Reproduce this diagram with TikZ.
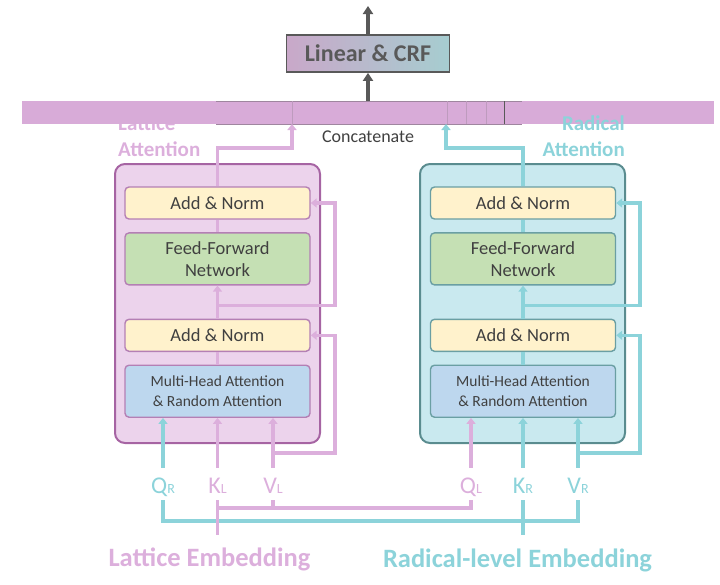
\documentclass[tikz,border=0pt]{standalone}
\usepackage{fontspec}
\setmainfont{Carlito}
\usetikzlibrary{arrows.meta}
\usetikzlibrary{positioning}

\definecolor{txtgrey}{HTML}{404040}
\definecolor{arrgrey}{HTML}{595959}
\definecolor{barpink}{HTML}{D8ABD8}
\definecolor{lpink}{HTML}{DCAFDC}
\definecolor{tteal}{HTML}{8CD3DA}
\definecolor{lfill}{HTML}{ECD3EC}
\definecolor{lborder}{HTML}{A664A3}
\definecolor{linner}{HTML}{B47FB4}
\definecolor{rfill}{HTML}{C9E9EF}
\definecolor{rborder}{HTML}{5A8C8F}
\definecolor{rinner}{HTML}{6A9FA3}
\definecolor{anfill}{HTML}{FFF2CC}
\definecolor{fffill}{HTML}{C5E0B4}
\definecolor{mhfill}{HTML}{BDD7EE}
\definecolor{crfleft}{HTML}{C9A8C9}
\definecolor{crfright}{HTML}{A6CDD0}

\begin{document}
\begin{tikzpicture}[x=1pt, y=-1pt, node distance=12.5pt,
    every node/.style={text=txtgrey},
    block/.style={rectangle, rounded corners=4pt, line width=1.4pt, minimum width=185pt, inner sep=2pt, align=center},
    addnorm/.style={block, fill=anfill, minimum height=32pt, font=\fontsize{18.5}{20}\selectfont},
    ffn/.style={block, fill=fffill, minimum height=52pt, font=\fontsize{18.5}{22.5}\selectfont},
    mha/.style={block, fill=mhfill, minimum height=52pt, font=\fontsize{15.5}{20}\selectfont},
    bigbox/.style={rectangle, rounded corners=10pt, line width=2pt, minimum width=205pt, minimum height=279pt},
    inlab/.style={font=\fontsize{24}{24}\selectfont, text height=20pt, text depth=2pt, inner ysep=5pt, inner xsep=1pt},
    emblab/.style={font=\fontsize{26.5}{28}\selectfont\bfseries, anchor=base},
    attlab/.style={font=\fontsize{21}{26}\selectfont\bfseries, inner sep=0pt},
    lline/.style={draw=lpink, line width=3.2pt},
    tline/.style={draw=tteal, line width=3.2pt},
    larr/.style={lline, -{Triangle[length=6pt,width=9pt]}},
    tarr/.style={tline, -{Triangle[length=6pt,width=9pt]}},
    darr/.style={draw=arrgrey, line width=3.2pt, -{Triangle[length=8pt,width=10pt]}}]

  \useasboundingbox (0,0) rectangle (720,584);

  % lattice label sits behind the bar
  \node[attlab, text=lpink, align=left, anchor=south west] (latt) at (118,157) {Lattice\\Attention};

  % concatenated output
  \node[fill=barpink, minimum width=692pt, minimum height=23pt, inner sep=0pt] (cat) at (368,112.5) {};
  \draw[barpink!55!arrgrey, line width=1pt] (216,101) -- (522,101) (216,124) -- (522,124);
  \draw[barpink!80!arrgrey, line width=0.8pt] (292,101) -- (292,124) (447,101) -- (447,124)
    (466,101) -- (466,124) (486,101) -- (486,124);
  \draw[arrgrey, line width=1pt] (504,101) -- (504,124);
  \node[font=\fontsize{18}{20}\selectfont] (cattxt) at (368,137) {Concatenate};
  \coordinate (lcat) at (292,124);
  \coordinate (rcat) at (446,124);

  \node[attlab, text=tteal, align=right, anchor=south east] (ratt) at (625,157) {Radical\\Attention};

  \node[rectangle, draw=arrgrey, line width=1.8pt, left color=crfleft, right color=crfright,
    minimum width=163pt, minimum height=37pt, font=\fontsize{24}{26}\selectfont\bfseries, text=arrgrey] (crf) at (368,53.5) {Linear \& CRF};
  \coordinate (out) at (368,6);
  \draw[darr] (cat) -- (crf);
  \draw[darr] (crf) -- (out);

  % lattice side
  \node[bigbox, fill=lfill, draw=lborder] (lbox) at (217.5,303.5) {};
  \node[addnorm, draw=linner] (lan2) at (217.5,203) {Add \& Norm};
  \node[ffn, draw=linner, below=of lan2] (lff) {Feed-Forward\\Network};
  \node[addnorm, draw=linner, below=33pt of lff] (lan1) {Add \& Norm};
  \node[mha, draw=linner, below=of lan1] (lmh) {Multi-Head Attention\\\& Random Attention};

  % radical side
  \node[bigbox, fill=rfill, draw=rborder] (rbox) at (522.5,303.5) {};
  \node[addnorm, draw=rinner] (ran2) at (523,203) {Add \& Norm};
  \node[ffn, draw=rinner, below=of ran2] (rff) {Feed-Forward\\Network};
  \node[addnorm, draw=rinner, below=33pt of rff] (ran1) {Add \& Norm};
  \node[mha, draw=rinner, below=of ran1] (rmh) {Multi-Head Attention\\\& Random Attention};

  % inputs
  \node[inlab, text=tteal] (lq) at (163,484) {Q{\fontsize{14}{14}\selectfont R}};
  \node[inlab, text=lpink] (lk) at (217.5,484) {K{\fontsize{14}{14}\selectfont L}};
  \node[inlab, text=lpink] (lv) at (273,484) {V{\fontsize{14}{14}\selectfont L}};
  \node[inlab, text=lpink] (rq) at (471,484) {Q{\fontsize{14}{14}\selectfont L}};
  \node[inlab, text=tteal] (rk) at (523,484) {K{\fontsize{14}{14}\selectfont R}};
  \node[inlab, text=tteal] (rv) at (578,484) {V{\fontsize{14}{14}\selectfont R}};

  \node[emblab, text=lpink] (lemb) at (209.5,566) {Lattice Embedding};
  \node[emblab, text=tteal] (remb) at (517.5,567) {Radical-level Embedding};

  % lattice connectors
  \draw[lline] (lmh) -- (lan1);
  \draw[larr] (lan1) -- (lff);
  \draw[lline] (lff) -- (lan2);
  \draw[larr] (lan2) -- ++(0,-55) -| (lcat);
  \draw[larr] (lan1) ++(0,-30) -- ++(117.5,0) |- (lan2);
  \draw[larr] (lv) ++(0,-31) -- ++(62,0) |- (lan1);
  \draw[tarr] (lq) -- (lq |- lmh.south);
  \draw[larr] (lk) -- (lmh);
  \draw[larr] (lv) -- (lv |- lmh.south);

  % radical connectors
  \draw[tline] (rmh) -- (ran1);
  \draw[tarr] (ran1) -- (rff);
  \draw[tline] (rff) -- (ran2);
  \draw[tarr] (ran2) -- ++(0,-55) -| (rcat);
  \draw[tarr] (ran1) ++(0,-30) -- ++(117,0) |- (ran2);
  \draw[tarr] (rv) ++(0,-31) -- ++(62,0) |- (ran1);
  \draw[larr] (rq) -- (rq |- rmh.south);
  \draw[tarr] (rk) -- (rmh);
  \draw[tarr] (rv) -- (rv |- rmh.south);

  % embeddings
  \draw[tline] (lq) -- ++(0,37) -| (rv);
  \draw[tline] (rk) -- ++(0,51);
  \draw[lline] (lk) -- ++(0,51);
  \draw[lline] (lk) ++(0,24) -| (rq);
  \draw[lline] (lv) -- ++(0,24);
\end{tikzpicture}
\end{document}
